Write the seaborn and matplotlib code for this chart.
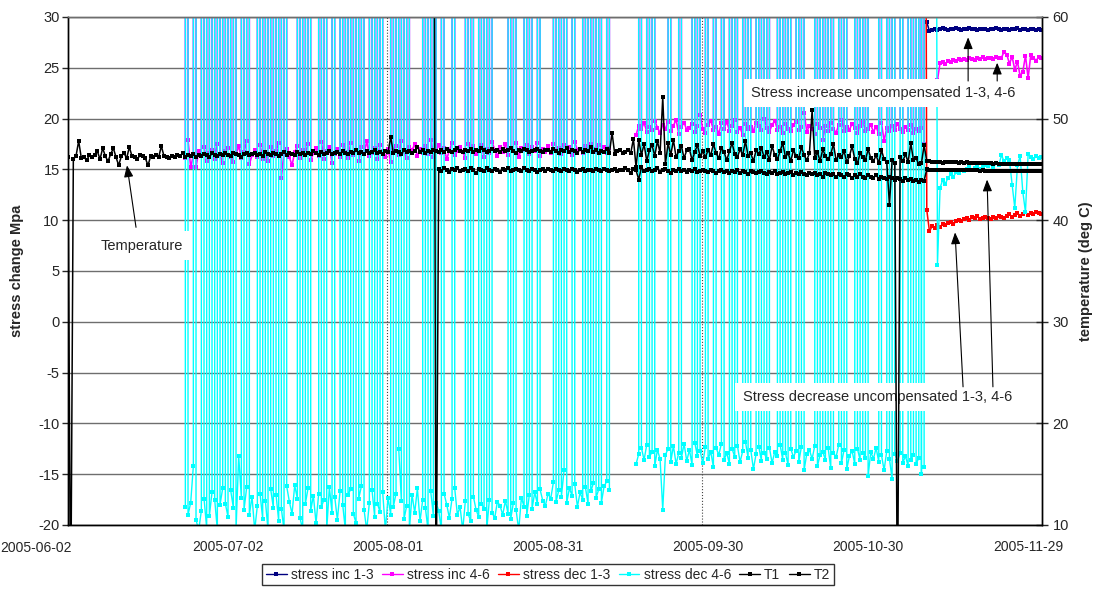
import numpy as np
import pandas as pd
import seaborn as sns
import matplotlib.pyplot as plt
import matplotlib.dates as mdates
from matplotlib.lines import Line2D

START = pd.Timestamp('2005-06-02')
STEP = 0.5          # days between logged samples
OFF = 99.0          # logger dropout value, off the scale
DROP = 10000.0      # reading of the 4-6 gauges while they drop out

tick_labels = ['2005-06-02', '2005-07-02', '2005-08-01', '2005-08-31',
               '2005-09-30', '2005-10-30', '2005-11-29']

# T1 / T2 temperature (deg C), one sample every 12 h
t1_start = 0.0
t1_vals = [
    46.2, 0.0, 46.0, 46.3, 47.8, 46.1, 46.2, 45.9, 46.4, 46.2,
    46.4, 46.8, 46.0, 47.1, 46.3, 45.8, 46.5, 47.1, 46.2, 45.4,
    46.3, 46.6, 46.1, 47.2, 46.3, 46.2, 46.0, 46.4, 46.3, 46.1,
    45.4, 46.3, 46.2, 46.4, 46.2, 47.3, 46.3, 46.2, 46.1, 46.3,
    46.2, 46.4, 46.3, 46.6, 46.2, 46.4, 46.3, 46.5, 46.2, 46.4,
    46.3, 46.5, 46.4, 46.2, 46.6, 46.4, 46.3, 46.5, 46.4, 46.6,
    46.4, 46.3, 46.6, 46.5, 46.4, 46.2, 46.5, 46.6, 46.4, 46.5,
    46.6, 46.4, 46.5, 46.3, 46.7, 46.5, 46.4, 46.6, 46.5, 46.3,
    46.5, 46.7, 46.4, 46.6, 46.5, 46.4, 46.7, 46.5, 46.6, 46.4,
    46.6, 46.5, 46.8, 46.6, 46.4, 46.7, 46.5, 46.6, 46.8, 46.5,
    46.6, 46.7, 46.5, 46.8, 46.6, 46.5, 46.7, 46.6, 46.9, 46.6,
    46.7, 46.5, 46.8, 46.6, 46.7, 46.9, 46.6, 46.7, 46.5, 46.8,
    46.7, 48.2, 46.6, 46.8, 46.7, 46.5, 46.9, 46.7, 46.8, 46.6,
    46.8, 47.2, 46.7, 46.9, 46.6, 46.8, 46.7, 46.9, 46.8, 46.7,
    46.9, 46.7, 47.0, 46.8, 46.7, 46.9, 47.1, 46.8, 46.7, 46.9,
    46.8, 47.0, 46.7, 46.9, 46.8, 47.1, 46.9, 46.7, 46.8, 47.0,
    46.8, 46.9, 46.7, 47.0, 46.8, 46.9, 47.1, 46.8, 46.6, 46.9,
    46.8, 47.0, 46.9, 46.7, 46.8, 46.9, 47.0, 46.8, 46.7, 46.9,
    46.9, 46.7, 47.0, 46.8, 46.6, 46.9, 46.8, 47.1, 46.7, 46.9,
    46.8, 46.6, 47.0, 46.7, 46.9, 46.8, 47.2, 46.7, 46.9, 46.6,
    46.8, 46.7, 47.0, 46.6, 48.6, 46.5, 46.8, 46.9, 46.6, 46.7,
    46.9, 46.6, 48.0, 45.2, 47.9, 46.4, 47.5, 45.8, 46.9, 47.4,
    46.3, 47.8, 46.6, 52.1, 45.5, 47.6, 46.4, 47.9, 46.2, 46.8,
    47.3, 46.1, 46.9, 47.0, 45.9, 46.7, 47.4, 46.3, 46.8, 46.2,
    46.9, 46.4, 47.5, 46.6, 46.1, 47.1, 46.7, 45.9, 46.8, 47.6,
    46.5, 46.2, 47.0, 46.4, 47.8, 46.3, 46.6, 45.8, 46.9, 46.5,
    47.1, 46.2, 46.7, 45.9, 47.3, 46.4, 46.0, 46.8, 47.6, 46.2,
    46.6, 45.8, 46.9, 46.3, 46.1, 47.2, 46.4, 45.9, 46.6, 50.8,
    46.1, 46.7, 45.8, 47.0, 46.3, 46.0, 46.5, 47.5, 45.9, 46.4,
    46.2, 46.8, 45.7, 46.3, 47.3, 46.0, 45.6, 46.6, 46.2, 45.9,
    47.0, 46.1, 45.8, 46.4, 45.6, 46.9, 46.0, 45.7, 41.5, 45.9,
    45.6, 0.0, 46.2, 45.8, 46.5, 45.7, 47.6, 45.9, 46.1, 45.5,
    45.6, 47.4, 45.8, 45.8, 45.7, 45.7, 45.7, 45.7, 45.6, 45.7,
    45.7, 45.7, 45.7, 45.7, 45.6, 45.7, 45.6, 45.7, 45.6, 45.6,
    45.6, 45.6, 45.6, 45.6, 45.6, 45.6, 45.6, 45.5, 45.6, 45.5,
    45.5, 45.5, 45.5, 45.5, 45.5, 45.5, 45.5, 45.5, 45.5, 45.5,
    45.5, 45.5, 45.5, 45.5, 45.5, 45.5,
]
t2_start = 68.5
t2_vals = [
    100.0, 0.0,
    45.0, 44.8, 45.1, 44.9, 44.7, 45.0, 44.9, 45.1, 44.8, 44.9,
    45.0, 44.8, 45.1, 44.9, 44.6, 45.0, 44.9, 44.8, 45.1, 44.9,
    44.8, 45.0, 44.9, 44.7, 45.0, 44.9, 45.1, 44.8, 44.9, 45.0,
    44.9, 44.8, 45.1, 44.9, 44.8, 45.0, 44.9, 44.7, 44.9, 45.0,
    44.8, 45.0, 44.9, 44.8, 45.0, 44.9, 44.8, 45.0, 44.9, 44.8,
    45.0, 44.9, 44.7, 44.9, 45.0, 44.8, 44.9, 44.9, 44.8, 45.0,
    44.9, 44.8, 45.0, 44.9, 44.8, 44.9, 45.0, 44.8, 44.9, 44.9,
    45.1, 44.9, 44.6, 45.0, 44.9, 44.0, 45.2, 44.8, 44.9, 45.0,
    44.8, 44.9, 45.1, 44.7, 44.9, 45.0, 44.8, 44.6, 44.9, 44.8,
    45.0, 44.8, 44.9, 44.7, 44.9, 44.8, 45.0, 44.7, 44.8, 44.9,
    44.8, 44.7, 44.9, 44.8, 44.6, 44.8, 44.9, 44.7, 44.8, 44.6,
    44.8, 44.7, 44.9, 44.6, 44.8, 44.7, 44.5, 44.8, 44.7, 44.6,
    44.7, 44.8, 44.6, 44.5, 44.7, 44.6, 44.8, 44.5, 44.6, 44.7,
    44.5, 44.6, 44.7, 44.4, 44.6, 44.5, 44.7, 44.5, 44.4, 44.6,
    44.5, 44.6, 44.4, 44.5, 44.3, 44.6, 44.5, 44.4, 44.5, 44.3,
    44.5, 44.4, 44.3, 44.5, 44.4, 44.2, 44.4, 44.3, 44.5, 44.3,
    44.2, 44.4, 44.3, 44.2, 44.4, 44.1, 44.3, 44.2, 44.1, 44.3,
    44.2, 44.0, 44.2, 44.1, 43.9, 44.2, 44.0, 44.1, 43.9, 44.0,
    43.8, 44.0, 43.9, 45.0, 44.9, 44.9, 44.9, 44.9, 44.9, 44.9,
    44.9, 44.9, 44.9, 44.9, 44.9, 44.9, 44.9, 44.9, 44.9, 44.9,
    44.9, 44.9, 44.9, 44.8, 44.9, 44.8, 44.8, 44.8, 44.8, 44.8,
    44.8, 44.8, 44.8, 44.8, 44.8, 44.8, 44.8, 44.8, 44.8, 44.8,
    44.8, 44.8, 44.8, 44.8, 44.8, 44.8, 44.8,
]

# stress inc 1-3 (Mpa)
inc13_start = 161.0
inc13_vals = [
    29.5, 28.6, 28.7, 28.8, 28.7, 28.8, 28.9, 28.8, 28.7, 28.8,
    28.8, 28.9, 28.8, 28.7, 28.8, 28.8, 28.9, 28.8, 28.8, 28.7,
    28.8, 28.8, 28.8, 28.7, 28.8, 28.8, 28.9, 28.8, 28.7, 28.8,
    28.8, 28.7, 28.8, 28.8, 28.9, 28.7, 28.8, 28.8, 28.7, 28.8,
    28.8, 28.7, 28.8, 28.7,
]

# stress inc 4-6 (Mpa), three logged stretches
inc46_a_start = 22.0
inc46_a = [
    16.1, 17.9, 15.2, 16.4, 15.2, 16.8, 16.3, 17.2, 15.8, 16.6,
    16.9, 16.0, 17.5, 16.4, 15.6, 16.8, 17.1, 16.2, 15.7, 16.5,
    17.3, 16.1, 16.7, 17.8, 15.5, 16.4, 16.9, 16.2, 17.4, 16.0,
    16.6, 15.8, 17.2, 16.3, 16.8, 17.6, 14.2, 16.5, 17.0, 16.2,
    15.4, 16.7, 17.3, 16.1, 16.9, 16.4, 17.5, 15.9, 16.6, 17.1,
    16.3, 17.7, 16.0, 16.8, 17.2, 15.6, 16.5, 17.0, 16.2, 17.4,
    16.7, 16.1, 17.6, 16.4, 16.9, 15.8, 17.2, 16.5, 17.8, 16.3,
    16.6, 17.1, 16.0, 17.4, 16.8, 16.2, 17.0, 15.7, 16.9, 17.3,
    16.4, 17.8, 16.7, 16.1, 17.2, 16.9, 17.5, 16.3, 17.0, 16.6,
    17.3, 16.5, 17.9, 16.2, 16.8, 17.4, 16.6, 17.1, 16.0, 16.9,
    17.6, 16.4, 16.8, 17.2, 16.7, 16.1, 17.5, 16.9, 17.3, 16.5,
    16.8, 17.4, 16.2, 17.0, 16.6, 17.7, 16.9, 16.3, 17.2, 16.7,
    17.5, 16.4, 17.0, 16.8, 17.6, 16.2, 17.1, 16.9, 17.4, 16.5,
    17.2, 16.8, 17.6, 16.3, 17.0, 16.7, 17.3, 16.6, 17.5, 16.9,
    17.1, 16.5, 17.4, 16.8, 17.2, 16.4, 17.7, 16.9, 17.0, 16.6,
    17.3, 16.8, 17.5, 17.0, 16.7, 17.4, 16.9, 17.2, 16.6, 17.1,
]
inc46_b_start = 106.5
inc46_b = [
    18.4, 19.3, 19.0, 19.6, 18.7, 19.2, 18.9, 19.8, 19.1, 18.6,
    19.4, 19.0, 19.7, 18.8, 19.3, 19.9, 18.5, 19.2, 19.6, 18.9,
    19.1, 19.5, 18.7, 19.3, 20.4, 19.0, 18.6, 19.4, 19.8, 18.9,
    19.2, 18.5, 19.6, 19.0, 19.7, 18.8, 19.3, 19.9, 18.7, 19.1,
    18.4, 19.5, 19.0, 19.2, 18.8, 19.6, 19.3, 18.9, 20.0, 19.1,
    18.7, 19.4, 19.8, 18.9, 19.2, 18.6, 19.5, 19.0, 18.8, 19.4,
    19.7, 18.9, 19.2, 20.6, 18.7, 19.3, 19.0, 18.5, 19.5, 19.1,
    17.9, 19.3, 18.8, 19.6, 19.0, 18.6, 19.4, 19.9, 18.8, 19.2,
    18.9, 19.5, 19.1, 18.6, 19.3, 19.7, 18.8, 19.0, 19.4, 18.7,
    19.2, 18.5, 19.6, 17.8, 19.1, 18.8, 19.3, 18.9, 19.5, 19.0,
    18.7, 19.2, 18.9, 19.4, 18.6, 19.0, 18.8, 19.1, 17.5,
]
inc46_c_start = 163.0
inc46_c = [
    23.8, 25.5, 25.6, 25.4, 25.7, 25.6, 25.8, 25.7, 25.9, 25.8,
    25.9, 25.8, 26.0, 25.9, 25.8, 26.0, 25.9, 26.1, 25.9, 26.0,
    26.0, 25.9, 26.1, 26.0, 26.0, 26.6, 26.3, 25.4, 26.1, 24.8,
    25.6, 24.2, 24.6, 26.2, 24.0, 26.3, 26.0, 25.7, 26.1, 26.0,
]

# stress dec 1-3 (Mpa)
dec13_start = 160.5
dec13_vals = [
    OFF,
    11.0, 8.9, 9.4, 9.2, 9.5, 9.3, 9.6, 9.5, 9.7, 9.8,
    9.6, 9.9, 10.0, 9.9, 10.1, 10.2, 10.0, 10.3, 10.2, 10.4,
    10.1, 10.2, 10.3, 10.2, 10.1, 10.3, 10.2, 10.4, 10.3, 10.2,
    10.4, 10.6, 10.3, 10.5, 10.7, 10.4, 10.6, 10.8, 10.5, 10.7,
    10.6, 10.8, 10.7, 10.6,
]

# stress dec 4-6 (Mpa), three logged stretches
dec46_a_start = 22.0
dec46_a = [
    -18.2, -19.0, -17.8, -14.2, -19.5, -20.5, -18.6, -17.4, -20.3, -19.1,
    -16.8, -17.5, -20.5, -18.0, -16.4, -17.9, -19.2, -16.6, -18.3, -20.5,
    -13.2, -17.3, -18.5, -16.3, -19.0, -17.2, -20.5, -18.1, -16.9, -19.4,
    -17.6, -20.5, -16.5, -18.3, -17.0, -19.6, -18.4, -20.5, -16.2, -17.7,
    -18.9, -16.1, -17.4, -19.3, -20.5, -17.9, -16.4, -18.6, -17.1, -19.8,
    -16.9, -18.2, -17.5, -20.5, -16.3, -18.8, -17.2, -19.5, -16.7, -18.0,
    -20.5, -17.0, -16.5, -18.9, -19.8, -17.4, -16.2, -18.5, -20.5, -17.8,
    -16.6, -19.2, -17.9, -18.7, -16.8, -20.5, -17.3, -19.0, -18.2, -16.9,
    -12.5, -17.6, -19.4, -18.1, -20.5, -17.0, -18.8, -16.4, -19.6, -17.5,
    -18.3, -20.5, -16.7, -19.1, -17.8, -18.6, -20.5, -16.9, -18.0, -19.3,
    -17.4, -16.4, -19.0, -18.2, -20.5, -17.6, -18.9, -19.6, -17.2, -18.5,
    -19.2, -17.9, -18.4, -20.5, -17.5, -18.8, -19.3, -17.7, -18.1, -19.0,
    -17.6, -18.9, -19.4, -17.8, -18.5, -20.5, -17.3, -18.2, -19.1, -17.0,
    -18.4, -16.8, -17.9, -16.5, -17.6, -18.1, -16.9, -17.4, -15.8, -17.7,
    -16.6, -17.2, -14.6, -17.8, -16.4, -17.1, -16.0, -18.2, -16.8, -17.5,
    -16.3, -17.9, -16.7, -15.9, -17.3, -16.5, -17.8, -16.2, -15.7, -16.6,
]
dec46_b_start = 106.5
dec46_b = [
    -14.0, -13.0, -12.4, -13.6, -12.1, -13.3, -12.8, -14.2, -12.6, -13.5,
    -18.5, -13.1, -12.5, -13.8, -12.2, -14.0, -12.9, -13.4, -12.0, -13.7,
    -12.6, -14.1, -11.9, -13.2, -12.7, -13.9, -12.3, -13.5, -12.8, -14.3,
    -12.4, -13.1, -12.0, -13.6, -12.9, -14.0, -12.5, -13.3, -12.2, -13.8,
    -12.7, -11.8, -13.4, -12.6, -14.5, -13.0, -12.3, -13.7, -12.9, -13.5,
    -12.4, -13.9, -12.8, -13.2, -12.1, -13.6, -12.9, -14.1, -12.5, -13.3,
    -12.7, -13.8, -12.3, -14.6, -13.0, -12.6, -13.5, -12.2, -14.2, -13.1,
    -12.8, -13.6, -12.4, -14.4, -12.9, -13.3, -12.1, -13.9, -12.6, -14.5,
    -13.2, -12.7, -14.0, -12.5, -13.6, -12.9, -13.4, -15.2, -12.8, -13.5,
    -12.4, -13.8, -13.1, -14.6, -12.7, -13.5, -15.5, -13.0, -13.7, -12.9,
    -13.9, -13.2, -14.2, -13.6, -13.1, -14.0, -13.4, -15.0, -14.3,
]
dec46_c_start = 162.5
dec46_c = [
    OFF, 5.6, 13.2, 14.0, 13.6, 14.2, 14.5, 14.3, 14.7, 14.6,
    14.9, 14.8, 15.0, 15.2, 14.9, 15.1, 15.3, 15.0, 15.2, 15.4,
    15.3, 15.5, 15.2, 15.6, 15.4, 16.4, 15.8, 16.1, 15.9, 13.5,
    11.2, 15.4, 16.3, 12.8, 10.8, 16.5, 16.2, 16.0, 16.3, 16.1, 16.2,
]

# times (days from 2005-06-02) at which both 4-6 gauges dropped out
spike_days = [
    22.25, 23.75, 25.25, 26.25, 27.25, 28.25, 29.25, 30.25, 31.25, 32.75,
    33.75, 35.75, 36.75, 37.75, 38.75, 39.75, 40.75, 43.25, 44.25, 45.25,
    47.25, 48.25, 49.75, 51.25, 52.25, 53.25, 54.25, 55.25, 56.75, 57.75,
    58.75, 60.75, 61.75, 62.75, 63.75, 66.75, 67.75, 68.75, 70.25, 72.25,
    74.75, 75.75, 77.25, 78.25, 79.25, 82.75, 83.75, 85.75, 86.75, 88.25,
    91.25, 92.25, 93.25, 94.75, 96.75, 97.75, 98.75, 99.75, 101.25,
    107.25, 108.75, 109.75, 112.75, 114.75, 117.25, 118.25, 119.75, 121.25,
    122.75, 124.25, 125.25, 126.75, 127.75, 129.25, 130.25, 131.25, 133.25,
    134.25, 135.25, 136.75, 137.75, 140.25, 141.25, 142.25, 143.25, 144.75,
    145.75, 147.75, 148.75, 149.75, 152.25, 153.75, 154.75, 156.25, 157.75,
    158.75, 159.75, 160.25,
]
# thin dotted marker lines in the original sheet
dotted_days = [59.8, 118.9]


def segment(name, start, vals, seg, spikes=False):
    days = start + STEP * np.arange(len(vals))
    v = np.array(vals, dtype=float)
    if spikes:
        sd = np.array([d for d in spike_days if days[0] < d < days[-1]])
        days = np.concatenate([days, sd])
        v = np.concatenate([v, np.full(len(sd), DROP)])
        order = np.argsort(days, kind='stable')
        days, v = days[order], v[order]
    return pd.DataFrame({'date': START + pd.to_timedelta(days, unit='D'),
                         'value': v, 'series': name, 'seg': seg})


df = pd.concat([
    segment('stress inc 1-3', inc13_start, inc13_vals, 0),
    segment('stress inc 4-6', inc46_a_start, inc46_a, 0, True),
    segment('stress inc 4-6', inc46_b_start, inc46_b, 1, True),
    segment('stress inc 4-6', inc46_c_start, inc46_c, 2),
    segment('stress dec 1-3', dec13_start, dec13_vals, 0),
    segment('stress dec 4-6', dec46_a_start, dec46_a, 0, True),
    segment('stress dec 4-6', dec46_b_start, dec46_b, 1, True),
    segment('stress dec 4-6', dec46_c_start, dec46_c, 2),
    segment('T1', t1_start, t1_vals, 0),
    segment('T2', t2_start, t2_vals, 0),
], ignore_index=True)

colors = {'stress inc 1-3': '#000080', 'stress inc 4-6': '#ff00ff',
          'stress dec 1-3': '#ff0000', 'stress dec 4-6': '#00ffff',
          'T1': '#000000', 'T2': '#000000'}
widths = {'stress inc 1-3': 1.1, 'stress inc 4-6': 1.15, 'stress dec 1-3': 1.1,
          'stress dec 4-6': 1.0, 'T1': 1.1, 'T2': 1.1}

sns.set_style('white')
plt.rcParams['font.family'] = ['Liberation Sans', 'DejaVu Sans']
plt.rcParams['axes.unicode_minus'] = False

fig, ax = plt.subplots(figsize=(10.96, 5.95), dpi=100)
fig.subplots_adjust(left=68/1096, right=1042/1096, top=1-17/595, bottom=1-525/595)
ax2 = ax.twinx()

for name in colors:
    target = ax2 if name.startswith('T') else ax
    sns.lineplot(data=df[df['series'] == name], x='date', y='value', units='seg',
                 estimator=None, color=colors[name], lw=widths[name], marker='s',
                 markersize=2.6, markeredgewidth=0, ax=target, legend=False)

for d in dotted_days:
    ax.axvline(mdates.date2num(START + pd.Timedelta(days=d)), color='#444444',
               lw=0.8, ls=':', zorder=1)


def dn(day):
    return mdates.date2num(START + pd.Timedelta(days=day))


ticks = pd.to_datetime(tick_labels)
ax.set_xlim(START, START + pd.Timedelta(days=182.6))
ax.set_xticks(ticks)
# the first label sits left of its tick, ending at the axis, as in the sheet
ax.set_xticklabels([''] + tick_labels[1:], fontsize=10)
ax.annotate(tick_labels[0], xy=(dn(0), 0), xycoords=('data', 'axes fraction'),
            xytext=(3, -11.5), textcoords='offset points', ha='right', va='top',
            fontsize=10, annotation_clip=False)
ax.set_ylim(-20, 30)
ax.set_yticks(range(-20, 31, 5))
ax.tick_params(axis='y', labelsize=10.5, direction='out', length=4, width=1, pad=2)
ax.tick_params(axis='x', direction='out', length=5, width=1, pad=6)
ax2.set_ylim(10, 60)
ax2.set_yticks(range(10, 61, 10))
ax2.tick_params(axis='y', labelsize=10.5, direction='inout', length=9, width=1, pad=3)

ax.yaxis.grid(True, color='#6e6e6e', lw=1)
ax.set_axisbelow(True)
ax.set_xlabel('')
ax.set_ylabel('stress change Mpa', fontsize=10.5, fontweight='bold')
ax.yaxis.set_label_coords(-0.045, 0.5)
ax2.set_ylabel('temperature (deg C)', fontsize=10.5, fontweight='bold')
ax2.yaxis.set_label_coords(1.038, 0.5)

for a in (ax, ax2):
    for s in a.spines.values():
        s.set_color('black')
        s.set_linewidth(1)
    a.spines['top'].set_color('#6e6e6e')

box = dict(boxstyle='square,pad=0.5', fc='white', ec='none')
arrow = dict(arrowstyle='-|>,head_length=0.7,head_width=0.28', color='black',
             lw=0.8, shrinkA=0, shrinkB=0)
ax.text(dn(13.9), 7.5, 'Temperature', ha='center', va='center', fontsize=10.5,
        bbox=box, zorder=6)
ax.annotate('', xy=(dn(11.06), 15.4), xytext=(dn(12.75), 9.3), arrowprops=arrow, zorder=7)

ax.text(dn(152.9), 22.5, 'Stress increase uncompensated 1-3, 4-6', ha='center',
        va='center', fontsize=10.5, bbox=box, zorder=6)
ax.annotate('', xy=(dn(168.75), 28.0), xytext=(dn(168.75), 23.7), arrowprops=arrow, zorder=7)
ax.annotate('', xy=(dn(174.2), 25.5), xytext=(dn(174.2), 23.7), arrowprops=arrow, zorder=7)

ax.text(dn(151.7), -7.4, 'Stress decrease uncompensated 1-3, 4-6', ha='center',
        va='center', fontsize=10.5, bbox=box, zorder=6)
ax.annotate('', xy=(dn(166.3), 8.8), xytext=(dn(167.8), -6.4), arrowprops=arrow, zorder=7)
ax.annotate('', xy=(dn(172.3), 14.0), xytext=(dn(173.4), -6.4), arrowprops=arrow, zorder=7)

handles = [Line2D([], [], color=colors[n], lw=1, marker='s', markersize=2.5,
                  markeredgewidth=0) for n in colors]
fig.legend(handles, list(colors), loc='lower center', bbox_to_anchor=(0.5, 0.005),
           ncol=6, fontsize=10, frameon=True, fancybox=False, edgecolor='black',
           handlelength=1.5, handletextpad=0.3, columnspacing=0.6, borderpad=0.25)

fig.savefig('out.png', dpi=100)
